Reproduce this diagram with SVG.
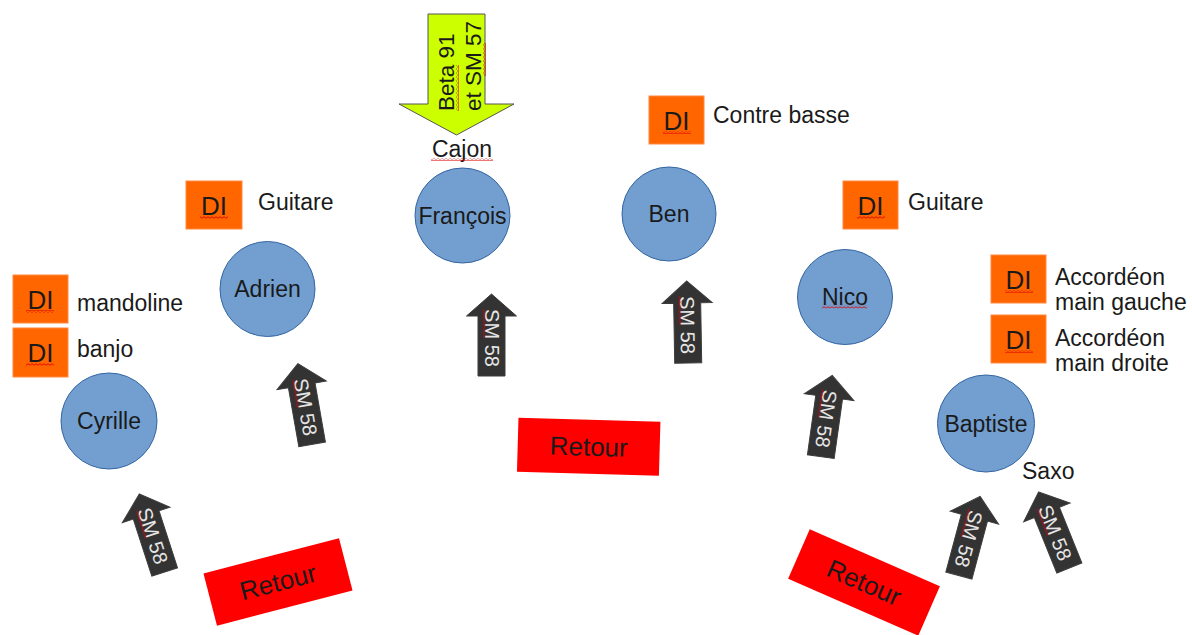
<svg xmlns="http://www.w3.org/2000/svg" xmlns:xlink="http://www.w3.org/1999/xlink" width="1192" height="635" viewBox="0 0 1192 635">
<style>
text{font-family:"Liberation Sans",Arial,sans-serif;fill:#1a1a1a}
.lbl{font-size:23px}
.cl{font-size:23px;text-anchor:middle}
.box{fill:#ff6600;stroke:#ff8a40;stroke-width:1}
.dt{font-size:26px;text-anchor:middle}
.perf circle{fill:#729fcf;stroke:#3465a4;stroke-width:1}
.micp{fill:#333333;stroke:#3c3c3c;stroke-width:1}
.mt{font-size:20px;fill:#e6e6e6;text-anchor:middle;dominant-baseline:central}
.ret rect{fill:#ff0000}
.rt{font-size:26px;text-anchor:middle}
.sq{fill:url(#wave)}
</style>
<defs>
<pattern id="wave" width="4" height="3" patternUnits="userSpaceOnUse">
<path d="M0,0.7 L2,2.3 L4,0.7" fill="none" stroke="#e00000" stroke-width="0.9"/>
</pattern>
<path id="micShape" class="micp" d="M0,-41 L25,-19 L13.5,-19 L13.5,41 L-13.5,41 L-13.5,-19 L-25,-19 Z"/>
</defs>
<rect width="1192" height="635" fill="#ffffff"/>

<g id="connectors"/>

<!-- Performers -->
<g id="francois" class="perf"><circle cx="462.5" cy="215.5" r="47.5"/><text class="cl" x="462.5" y="223.5">François</text></g>
<g id="ben" class="perf"><circle cx="669" cy="214" r="47"/><text class="cl" x="669" y="222">Ben</text></g>
<g id="adrien" class="perf"><circle cx="267.5" cy="289" r="47.5"/><text class="cl" x="267.5" y="297">Adrien</text></g>
<g id="cyrille" class="perf"><circle cx="109" cy="421" r="48"/><text class="cl" x="109" y="429">Cyrille</text></g>
<g id="nico" class="perf"><circle cx="845" cy="297" r="47.5"/><text class="cl" x="845" y="305">Nico</text><rect class="sq" x="822" y="305.5" width="45" height="3"/></g>
<g id="baptiste" class="perf"><circle cx="986" cy="423.5" r="48.5"/><text class="cl" x="986" y="431.5">Baptiste</text></g>

<!-- DI boxes -->
<g id="di-adrien"><rect class="box" x="186" y="181" width="56" height="48"/><text class="dt" x="214" y="215">DI</text><rect class="sq" x="200" y="216" width="28" height="3"/><text class="lbl" x="258" y="210">Guitare</text></g>
<g id="di-mandoline"><rect class="box" x="13" y="275" width="55" height="48"/><text class="dt" x="40.5" y="309">DI</text><rect class="sq" x="26" y="310" width="28" height="3"/><text class="lbl" x="77" y="311">mandoline</text></g>
<g id="di-banjo"><rect class="box" x="13" y="328" width="55" height="49"/><text class="dt" x="40.5" y="362">DI</text><rect class="sq" x="26" y="363" width="28" height="3"/><text class="lbl" x="77" y="357">banjo</text></g>
<g id="di-contrebasse"><rect class="box" x="649" y="96" width="55" height="48"/><text class="dt" x="676.5" y="130">DI</text><rect class="sq" x="663" y="131" width="28" height="3"/><text class="lbl" x="713" y="123">Contre basse</text></g>
<g id="di-nico"><rect class="box" x="843" y="181" width="55" height="48"/><text class="dt" x="870.5" y="215">DI</text><rect class="sq" x="857" y="216" width="28" height="3"/><text class="lbl" x="908" y="210">Guitare</text></g>
<g id="di-accordeon-gauche"><rect class="box" x="991" y="255" width="55" height="48"/><text class="dt" x="1018.5" y="289">DI</text><rect class="sq" x="1005" y="290" width="28" height="3"/><text class="lbl" x="1055" y="285">Accordéon</text><text class="lbl" x="1055" y="310">main gauche</text></g>
<g id="di-accordeon-droite"><rect class="box" x="991" y="315" width="55" height="48"/><text class="dt" x="1018.5" y="349">DI</text><rect class="sq" x="1005" y="350" width="28" height="3"/><text class="lbl" x="1055" y="346">Accordéon</text><text class="lbl" x="1055" y="371">main droite</text></g>

<!-- Cajon overhead mics -->
<g id="cajon-mics">
<path d="M428,14 L485,14 L485,104 L514,104 L456.5,135 L399,104 L428,104 Z" fill="#ccff00" stroke="#555555" stroke-width="1"/>
<text class="lbl" style="font-size:22.5px" transform="translate(454,111) rotate(-90)">Beta 91</text>
<rect class="sq" transform="translate(454,111) rotate(-90)" x="0" y="2" width="46" height="3"/>
<text class="lbl" style="font-size:22.5px" transform="translate(481,111) rotate(-90)">et SM 57</text>
<rect class="sq" transform="translate(481,111) rotate(-90)" x="35" y="2" width="33" height="3"/>
<text class="cl" x="462" y="157">Cajon</text>
<rect class="sq" x="431" y="158" width="62" height="3"/>
</g>

<!-- SM 58 mics -->
<g id="mic-cyrille" transform="translate(152,533) rotate(-18)"><use href="#micShape"/><g transform="rotate(90)"><text class="mt" x="3" y="0">SM 58</text><rect class="sq" x="-26" y="6" width="29" height="3"/></g></g>
<g id="mic-adrien" transform="translate(305,404) rotate(-10)"><use href="#micShape"/><g transform="rotate(90)"><text class="mt" x="3" y="0">SM 58</text><rect class="sq" x="-26" y="6" width="29" height="3"/></g></g>
<g id="mic-francois" transform="translate(491.5,335)"><use href="#micShape"/><g transform="rotate(90)"><text class="mt" x="3" y="0">SM 58</text><rect class="sq" x="-26" y="6" width="29" height="3"/></g></g>
<g id="mic-ben" transform="translate(687.5,322) rotate(-1)"><use href="#micShape"/><g transform="rotate(90)"><text class="mt" x="3" y="0">SM 58</text><rect class="sq" x="-26" y="6" width="29" height="3"/></g></g>
<g id="mic-nico" transform="translate(826.5,416) rotate(8)"><use href="#micShape"/><g transform="rotate(90)"><text class="mt" x="3" y="0">SM 58</text><rect class="sq" x="-26" y="6" width="29" height="3"/></g></g>
<g id="mic-baptiste" transform="translate(969.5,536) rotate(15)"><use href="#micShape"/><g transform="rotate(90)"><text class="mt" x="3" y="0">SM 58</text><rect class="sq" x="-26" y="6" width="29" height="3"/></g></g>
<g id="mic-saxo" transform="translate(1054,530) rotate(-22)"><use href="#micShape"/><g transform="rotate(90)"><text class="mt" x="3" y="0">SM 58</text><rect class="sq" x="-26" y="6" width="29" height="3"/></g></g>
<g id="saxo-label"><text class="lbl" x="1022" y="479">Saxo</text></g>

<!-- Retour monitors -->
<g id="retour-left" class="ret" transform="translate(278,582) rotate(-14.5)"><rect x="-70" y="-27" width="140" height="54"/><text class="rt" x="0" y="9">Retour</text></g>
<g id="retour-center" class="ret" transform="translate(588.7,446.7) rotate(1.6)"><rect x="-71" y="-27" width="142" height="54"/><text class="rt" x="0" y="9">Retour</text></g>
<g id="retour-right" class="ret" transform="translate(864,582.5) rotate(23.6)"><rect x="-71" y="-27" width="142" height="54"/><text class="rt" x="0" y="9">Retour</text></g>
</svg>
